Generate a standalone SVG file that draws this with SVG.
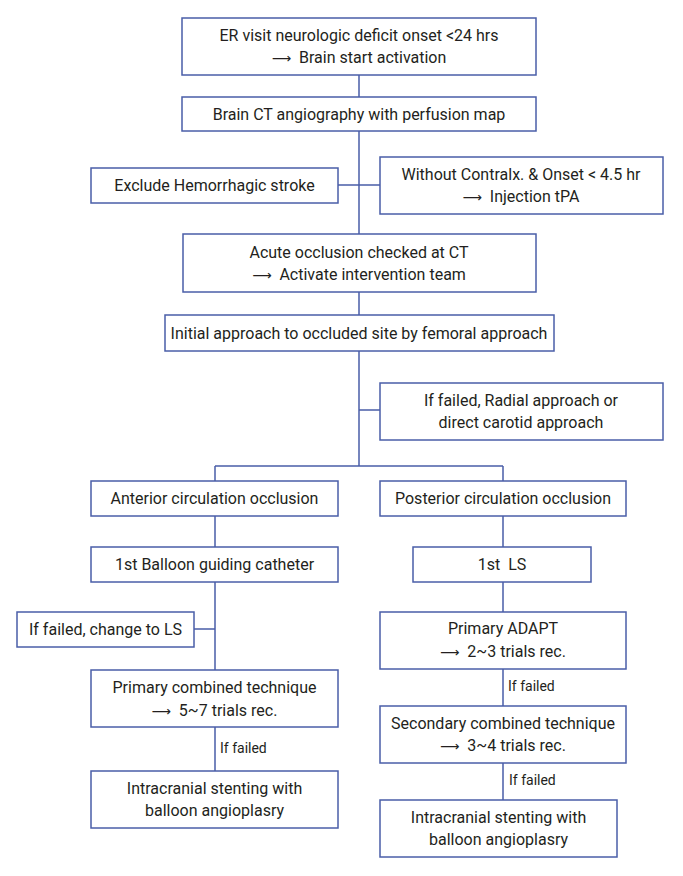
<svg xmlns="http://www.w3.org/2000/svg" width="683" height="876" viewBox="0 0 683 876">
<style>
.box{fill:#fff;stroke:#4a5ea8;stroke-width:1.5}
.ln{fill:none;stroke:#4a5ea8;stroke-width:1.5}
text{font-family:Roboto,"Liberation Sans",sans-serif;font-size:16px;fill:#231f20;text-anchor:middle}
.sm{font-size:14px;text-anchor:start}
.ar{font-family:"DejaVu Sans",sans-serif;font-size:13.5px}
</style>
<rect width="683" height="876" fill="#fff"/>
<g id="connectors">
<path class="ln" d="M359 75V97M359 131V234M359 292V315M359 351V466M338 185H380M359 410H380M215 466H503M215 466V481M503 466V481M215 516V547M215 582V670M194 629H215M215 727V771M503 516V547M503 582V612M503 669V706M503 763V800"/>
</g>
<g id="n1"><rect class="box" x="182" y="18" width="354" height="57"/><text x="359" y="41">ER visit neurologic deficit onset &lt;24 hrs</text><text x="359" y="63" xml:space="preserve"><tspan class="ar">⟶</tspan>  Brain start activation</text></g>
<g id="n2"><rect class="box" x="182" y="97" width="354" height="34"/><text x="359" y="119.5">Brain CT angiography with perfusion map</text></g>
<g id="n3"><rect class="box" x="91" y="168" width="247" height="35"/><text x="214.5" y="191">Exclude Hemorrhagic stroke</text></g>
<g id="n4"><rect class="box" x="380" y="157" width="283" height="57"/><text x="521" y="180">Without Contralx. &amp; Onset &lt; 4.5 hr</text><text x="521" y="202" xml:space="preserve"><tspan class="ar">⟶</tspan>  Injection tPA</text></g>
<g id="n5"><rect class="box" x="183" y="234" width="353" height="58"/><text x="359" y="258">Acute occlusion checked at CT</text><text x="359" y="280" xml:space="preserve"><tspan class="ar">⟶</tspan>  Activate intervention team</text></g>
<g id="n6"><rect class="box" x="165" y="315" width="389" height="36"/><text x="359" y="338.5">Initial approach to occluded site by femoral approach</text></g>
<g id="n7"><rect class="box" x="380" y="383" width="283" height="57"/><text x="521" y="406">If failed, Radial approach or</text><text x="521" y="428">direct carotid approach</text></g>
<g id="n8"><rect class="box" x="91" y="481" width="247" height="35"/><text x="214.5" y="504">Anterior circulation occlusion</text></g>
<g id="n9"><rect class="box" x="380" y="481" width="246" height="35"/><text x="503" y="504">Posterior circulation occlusion</text></g>
<g id="n10"><rect class="box" x="91" y="547" width="247" height="35"/><text x="214.5" y="570">1st Balloon guiding catheter</text></g>
<g id="n11"><rect class="box" x="413" y="547" width="178" height="35"/><text x="502" y="570" xml:space="preserve">1st  LS</text></g>
<g id="n12"><rect class="box" x="17" y="612" width="177" height="35"/><text x="105.5" y="635">If failed, change to LS</text></g>
<g id="n13"><rect class="box" x="380" y="612" width="246" height="57"/><text x="503" y="634">Primary ADAPT</text><text x="503" y="657" xml:space="preserve"><tspan class="ar">⟶</tspan>  2~3 trials rec.</text></g>
<g id="n14"><rect class="box" x="91" y="670" width="247" height="57"/><text x="214.5" y="693">Primary combined technique</text><text x="214.5" y="716" xml:space="preserve"><tspan class="ar">⟶</tspan>  5~7 trials rec.</text></g>
<text class="sm" x="220" y="753">If failed</text>
<g id="n15"><rect class="box" x="91" y="771" width="247" height="57"/><text x="214.5" y="794">Intracranial stenting with</text><text x="214.5" y="816">balloon angioplasry</text></g>
<text class="sm" x="508" y="691">If failed</text>
<g id="n16"><rect class="box" x="380" y="706" width="246" height="57"/><text x="503" y="729">Secondary combined technique</text><text x="503" y="751" xml:space="preserve"><tspan class="ar">⟶</tspan>  3~4 trials rec.</text></g>
<text class="sm" x="509" y="785">If failed</text>
<g id="n17"><rect class="box" x="380" y="800" width="237" height="57"/><text x="498.5" y="823">Intracranial stenting with</text><text x="498.5" y="845">balloon angioplasry</text></g>
</svg>
